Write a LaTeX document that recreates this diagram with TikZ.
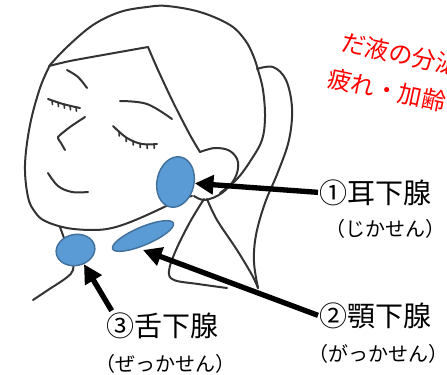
\documentclass[tikz,border=0pt]{standalone}
\usepackage{fontspec}
\newfontfamily\jpfont{Noto Sans CJK JP}
\usetikzlibrary{arrows.meta,shapes.geometric}
\definecolor{glandfill}{HTML}{5B9BD5}
\definecolor{glandedge}{HTML}{41719C}
\begin{document}
\begin{tikzpicture}[x=0.75pt,y=-0.75pt,
  sketch/.style={draw=black!80,line width=1.5pt,line cap=round,line join=round},
  lash/.style={draw=black!80,line width=1.2pt,line cap=round},
  gland/.style={ellipse,draw=glandedge,fill=glandfill,line width=1.1pt,inner sep=0pt},
  pointer/.style={draw=black,line width=4pt,-{Triangle[length=14pt,width=14pt]}},
  mainlabel/.style={font=\jpfont\fontsize{21}{25}\selectfont,inner sep=1pt},
  reading/.style={font=\jpfont\fontsize{15}{18}\selectfont,inner sep=0pt},
  note/.style={font=\jpfont\fontsize{18}{28.5}\selectfont,text=red,inner sep=0pt,rotate=-12,align=left}]
\useasboundingbox (0,0) rectangle (447,375);
\fill[white] (0,0) rectangle (447,375);

% ---- head and hair ----
\draw[sketch] plot[smooth,tension=0.6] coordinates {(50,65) (67,47) (93,25) (120,12) (147,7) (167,6) (200,12) (230,25) (245,40) (253,55) (258,70) (263,90) (265,117) (262,140) (251,160) (237,179) (220,193)};
% ponytail
\draw[sketch] plot[smooth,tension=0.6] coordinates {(257,69) (273,67) (286,80) (292,108) (289,140) (278,172) (265,203) (256,235) (254,262) (258,288)};
% fringe and side hair
\draw[sketch] plot[smooth,tension=0.5] coordinates {(49,66) (70,61) (103,55) (148,47)};
\draw[sketch] plot[smooth,tension=0.5] coordinates {(148,47) (158,70) (173,102) (190,135) (200,152)};
% face outline and jaw
\draw[sketch] plot[smooth,tension=0.6] coordinates {(50,65) (40,88) (30,125) (25,165) (28,197) (35,212) (45,221) (67,228) (93,230) (112,228) (133,221) (160,209) (178,200) (192,196)};
% ear
\draw[sketch] plot[smooth,tension=0.6] coordinates {(200,152) (215,148) (230,151) (238,162) (235,178) (222,193) (205,200) (194,196)};
% neck
\draw[sketch] plot[smooth,tension=0.6] coordinates {(204,199) (190,222) (176,250) (169,271) (174,280) (198,284) (227,288)};
\draw[sketch] plot[smooth,tension=0.6] coordinates {(207,199) (217,220) (237,250) (252,275) (258,288)};
\draw[sketch] (60,227) -- (64,238);
\draw[sketch] plot[smooth,tension=0.6] coordinates {(73,256) (73,270) (66,278) (48,290) (33,300)};

% ---- face features ----
\draw[sketch] plot[smooth,tension=0.6] coordinates {(67,70) (78,77) (87,88)};
\draw[sketch] plot[smooth,tension=0.6] coordinates {(48,99) (63,104) (80,108)};
\foreach \x/\y in {52/100.5,58/102.5,64/104.2,70/105.8,76/107.2}
  \draw[lash] (\x,\y) -- ++(0.5,4);
\draw[sketch] plot[smooth,tension=0.3] coordinates {(85,117) (70,127) (58,137) (61,143) (65,150)};
\draw[sketch] plot[smooth,tension=0.6] coordinates {(120,101) (147,104) (172,119)};
\draw[sketch] plot[smooth,tension=0.6] coordinates {(113,126) (127,138) (142,144) (157,144)};
\foreach \x/\y in {119/132,126/137.5,133/141,140/143.5,147/144.5,154/144.3}
  \draw[lash] (\x,\y) -- ++(0.3,4);
\draw[sketch] plot[smooth,tension=0.6] coordinates {(48,173) (58,186) (72,192) (88,192)};

% ---- salivary glands ----
\node[gland,minimum width=27.75pt,minimum height=38.25pt,rotate=-12] (parotid) at (175.5,182) {};
\node[gland,minimum width=49.5pt,minimum height=13.5pt,rotate=23] (submand) at (143,236) {};
\node[gland,minimum width=29.25pt,minimum height=23.25pt,rotate=12] (subling) at (75.5,250) {};

% ---- labels ----
\node[mainlabel,anchor=base west] (l1) at (318,203) {①耳下腺};
\node[reading,anchor=base] (r1) at (385,236) {（じかせん）};
\node[mainlabel,anchor=base west] (l2) at (318,326) {②顎下腺};
\node[reading,anchor=base] (r2) at (378,361) {（がっかせん）};
\node[mainlabel,anchor=base west] (l3) at (105,336) {③舌下腺};
\node[reading,anchor=base] (r3) at (165,371) {（ぜっかせん）};

% ---- pointers ----
\coordinate (t2) at (143,250);
\draw[pointer] (l1.west) -- (parotid);
\draw[pointer] (l2.west) -- (t2);
\draw[pointer] ([xshift=5pt]l3.north west) -- (subling);

% ---- note (base anchor sits on the second line) ----
\node[note,anchor=base west] (note) at (332,88) {だ液の分泌\\\hspace*{-4.5pt}疲れ・加齢};
\end{tikzpicture}
\end{document}
